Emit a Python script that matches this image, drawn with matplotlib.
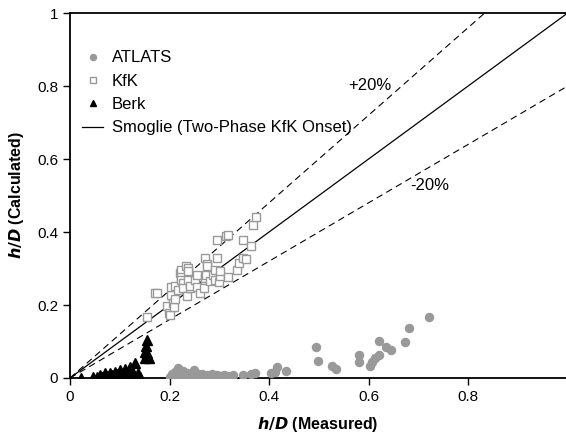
import matplotlib.pyplot as plt
import numpy as np
import matplotlib.ticker as ticker

plt.rcParams['font.family'] = ['Liberation Sans', 'DejaVu Sans']

# ATLATS (measured, calculated)
atlats_x = [0.200, 0.205, 0.210, 0.212, 0.215, 0.218, 0.220, 0.224, 0.228, 0.230, 0.233, 0.236,
            0.240, 0.244, 0.248, 0.250, 0.254, 0.258, 0.262, 0.266, 0.270, 0.275, 0.280, 0.285,
            0.290, 0.296, 0.302, 0.310, 0.318, 0.327, 0.348, 0.363, 0.372, 0.405, 0.412, 0.417,
            0.434, 0.494, 0.498, 0.526, 0.534, 0.581, 0.581, 0.604, 0.608, 0.613, 0.622, 0.622,
            0.635, 0.645, 0.673, 0.681, 0.722]
atlats_y = [0.004, 0.012, 0.006, 0.016, 0.008, 0.027, 0.010, 0.005, 0.018, 0.012, 0.006, 0.014,
            0.008, 0.004, 0.012, 0.022, 0.007, 0.010, 0.005, 0.012, 0.006, 0.009, 0.004, 0.010,
            0.006, 0.008, 0.005, 0.007, 0.005, 0.008, 0.008, 0.011, 0.013, 0.013, 0.017, 0.029,
            0.020, 0.086, 0.047, 0.033, 0.024, 0.063, 0.043, 0.033, 0.045, 0.054, 0.102, 0.063,
            0.084, 0.077, 0.098, 0.138, 0.167]

# KfK
kfk_x = [0.154, 0.171, 0.174, 0.194, 0.198, 0.201, 0.204, 0.204, 0.208, 0.209, 0.211, 0.211,
         0.218, 0.221, 0.223, 0.223, 0.224, 0.227, 0.228, 0.234, 0.236, 0.237, 0.237, 0.238,
         0.241, 0.241, 0.251, 0.255, 0.255, 0.261, 0.269, 0.271, 0.271, 0.273, 0.275, 0.275,
         0.281, 0.288, 0.291, 0.291, 0.295, 0.295, 0.300, 0.302, 0.302, 0.314, 0.318, 0.318,
         0.335, 0.340, 0.348, 0.348, 0.353, 0.363, 0.368, 0.373]
kfk_y = [0.168, 0.233, 0.234, 0.196, 0.178, 0.172, 0.228, 0.249, 0.205, 0.194, 0.251, 0.216,
         0.240, 0.288, 0.297, 0.278, 0.269, 0.260, 0.246, 0.306, 0.225, 0.269, 0.301, 0.292,
         0.246, 0.251, 0.269, 0.283, 0.249, 0.233, 0.248, 0.329, 0.274, 0.281, 0.313, 0.306,
         0.265, 0.283, 0.297, 0.269, 0.378, 0.329, 0.262, 0.280, 0.292, 0.390, 0.391, 0.276,
         0.297, 0.315, 0.378, 0.329, 0.326, 0.361, 0.419, 0.440]

# Berk
berk_x = [0.023, 0.047, 0.055, 0.060, 0.065, 0.070, 0.075, 0.080, 0.085, 0.090, 0.095, 0.101,
          0.105, 0.111, 0.115, 0.121, 0.125, 0.131, 0.137, 0.141, 0.151, 0.151, 0.153, 0.155,
          0.155, 0.159]
berk_y = [0.000, 0.004, 0.002, 0.008, 0.004, 0.013, 0.006, 0.015, 0.008, 0.017, 0.010, 0.022,
          0.012, 0.024, 0.014, 0.031, 0.018, 0.040, 0.013, 0.004, 0.072, 0.054, 0.088, 0.104,
          0.068, 0.054]

fig = plt.figure(figsize=(5.66, 4.38), dpi=100)
ax = fig.add_axes([0.1237, 0.137, 0.8763, 0.833])

line_x = np.array([0, 1.0])
ax.plot(line_x, 1.2 * line_x, color='black', linestyle=(0, (6, 4)), linewidth=0.8, zorder=1)
ax.plot(line_x, 0.8 * line_x, color='black', linestyle=(0, (6, 4)), linewidth=0.8, zorder=1)

ax.plot(atlats_x, atlats_y, linestyle='none', marker='o', markersize=5.8,
        color='#999999', markeredgecolor='#999999', label='ATLATS', zorder=3)
ax.plot(kfk_x, kfk_y, linestyle='none', marker='s', markersize=5.8,
        markerfacecolor='white', markeredgecolor='#999999', markeredgewidth=1.0, label='KfK', zorder=3)
ax.plot(berk_x, berk_y, linestyle='none', marker='^', markersize=6.5,
        color='black', label='Berk', zorder=4)
ax.plot(line_x, line_x, color='black', linewidth=0.9, label='Smoglie (Two-Phase KfK Onset)', zorder=2)

ax.text(0.603, 0.802, '+20%', fontsize=12, ha='center', va='center')
ax.text(0.724, 0.527, '-20%', fontsize=12, ha='center', va='center')

ax.set_xlim(0, 0.997)
ax.set_ylim(0, 1)
ax.xaxis.set_major_locator(ticker.FixedLocator([0, 0.2, 0.4, 0.6, 0.8]))
ax.yaxis.set_major_locator(ticker.FixedLocator([0, 0.2, 0.4, 0.6, 0.8, 1.0]))
ax.xaxis.set_major_formatter(ticker.FormatStrFormatter('%g'))
ax.yaxis.set_major_formatter(ticker.FormatStrFormatter('%g'))
ax.tick_params(direction='out', length=5, width=1, labelsize=11)

ax.spines['right'].set_visible(False)
for s in ['left', 'bottom', 'top']:
    ax.spines[s].set_linewidth(1.3)

ax.set_xlabel(r'$\boldsymbol{h/D}$ (Measured)', fontsize=11.5, fontweight='bold', labelpad=8)
ax.set_ylabel(r'$\boldsymbol{h/D}$ (Calculated)', fontsize=11.5, fontweight='bold', labelpad=8)

ax.legend(loc='upper left', bbox_to_anchor=(0.0, 0.93), frameon=False, fontsize=12,
          markerscale=0.75, handlelength=1.3, handletextpad=0.5, labelspacing=0.5,
          borderaxespad=0.3)

plt.savefig('out.png', dpi=100)
